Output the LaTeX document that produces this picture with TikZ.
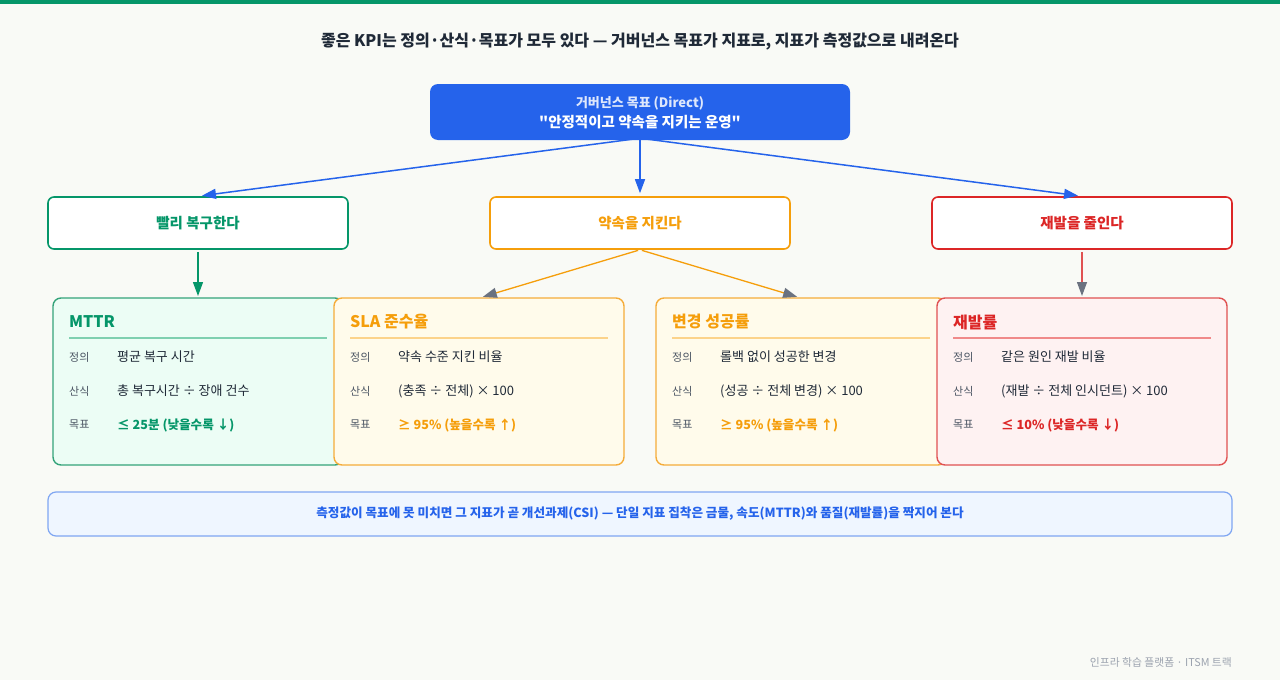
\documentclass[tikz,border=0pt]{standalone}
\usepackage{fontspec}
\setmainfont{Noto Sans CJK KR}
\usetikzlibrary{arrows.meta}
\newcommand{\sq}{\XeTeXglyph\XeTeXcharglyph"22\relax}
\definecolor{bgc}{HTML}{F9FAF6}
\definecolor{topbar}{HTML}{059669}
\definecolor{titc}{HTML}{1F2937}
\definecolor{blu}{HTML}{2563EB}
\definecolor{grn}{HTML}{059669}
\definecolor{org}{HTML}{F59E0B}
\definecolor{red1}{HTML}{DC2626}
\definecolor{grayhead}{HTML}{6B7280}
\definecolor{lblc}{HTML}{4B5563}
\definecolor{valc}{HTML}{1F2937}
\definecolor{gfill}{HTML}{ECFDF5}
\definecolor{gbord}{HTML}{34A37A}
\definecolor{gline}{HTML}{7FD0B0}
\definecolor{ofill}{HTML}{FFFBEB}
\definecolor{obord}{HTML}{F5AC3A}
\definecolor{oline}{HTML}{FCD38A}
\definecolor{rfill}{HTML}{FEF2F2}
\definecolor{rbord}{HTML}{E05252}
\definecolor{rline}{HTML}{F08A8A}
\definecolor{bfill}{HTML}{EFF6FF}
\definecolor{bbord}{HTML}{7FA6F2}
\definecolor{footc}{HTML}{9CA3AF}
\tikzset{
  midbox/.style={draw=#1, fill=white, line width=1.6pt, rounded corners=6pt, minimum width=300pt, minimum height=52pt, inner sep=0pt, text=#1, font=\fontsize{14.5}{16}\selectfont\bfseries},
  kcard/.style n args={2}{draw=#1, fill=#2, line width=1.4pt, rounded corners=8pt, minimum width=290pt, minimum height=167pt, inner sep=0pt, outer sep=0pt, anchor=north west},
  ktitle/.style={anchor=west, inner sep=0pt, font=\fontsize{16}{18}\selectfont\bfseries, text=#1},
  klbl/.style={anchor=west, inner sep=0pt, font=\fontsize{11}{12}\selectfont, text=lblc},
  kval/.style={anchor=west, inner sep=0pt, font=\fontsize{13}{14}\selectfont, text=valc},
  ktgt/.style={anchor=west, inner sep=0pt, font=\fontsize{12.6}{14}\selectfont\bfseries, text=#1},
  arr/.style n args={2}{draw=#1, line width=1.5pt, -{Triangle[length=14pt,width=10pt,color=#2]}},
}
\begin{document}
\begin{tikzpicture}[x=1pt,y=-1pt]
\useasboundingbox (0,0) rectangle (1280,680);
\fill[bgc] (0,0) rectangle (1280,680);
\fill[topbar] (0,0) rectangle (1280,4);
\node[font=\fontsize{16}{19}\selectfont\bfseries, text=titc, inner sep=0pt] (title) at (640,42) {좋은 KPI는 정의·산식·목표가 모두 있다 — 거버넌스 목표가 지표로, 지표가 측정값으로 내려온다};

% top box
\node[fill=blu, rounded corners=8pt, minimum width=420pt, minimum height=56pt, inner sep=0pt] (top) at (640,112) {};
\node[inner sep=0pt, text=white, opacity=0.85, font=\fontsize{13}{14}\selectfont\bfseries] (topl1) at (640,103) {거버넌스 목표 (Direct)};
\node[inner sep=0pt, text=white, font=\fontsize{14.5}{16}\selectfont\bfseries] (topl2) at (640,122) {\sq 안정적이고 약속을 지키는 운영\sq};

% mid boxes
\node[midbox=grn] (m1) at (198,223) {빨리 복구한다};
\node[midbox=org] (m2) at (640,223) {약속을 지킨다};
\node[midbox=red1] (m3) at (1082,223) {재발을 줄인다};

% cards
\node[kcard={gbord}{gfill}] (c1) at (53,298) {};
\node[kcard={obord}{ofill}] (c2) at (334,298) {};
\node[kcard={obord}{ofill}] (c3) at (656,298) {};
\node[kcard={rbord}{rfill}] (c4) at (937,298) {};

% card 1
\node[ktitle=grn] (c1t) at (69,322) {MTTR};
\draw[gline, line width=1.6pt] (69,338) -- (327,338);
\node[klbl] (c1l1) at (69,357) {정의};
\node[kval] (c1v1) at (117,357) {평균 복구 시간};
\node[klbl] (c1l2) at (69,391) {산식};
\node[kval] (c1v2) at (117,391) {총 복구시간 ÷ 장애 건수};
\node[klbl] (c1l3) at (69,425) {목표};
\node[ktgt=grn] (c1v3) at (117,425) {≤ 25분 (낮을수록 ↓)};

% card 2
\node[ktitle=org] (c2t) at (350,322) {SLA 준수율};
\draw[oline, line width=1.6pt] (350,338) -- (608,338);
\node[klbl] (c2l1) at (350,357) {정의};
\node[kval] (c2v1) at (398,357) {약속 수준 지킨 비율};
\node[klbl] (c2l2) at (350,391) {산식};
\node[kval] (c2v2) at (398,391) {(충족 ÷ 전체) × 100};
\node[klbl] (c2l3) at (350,425) {목표};
\node[ktgt=org] (c2v3) at (398,425) {≥ 95\% (높을수록 ↑)};

% card 3
\node[ktitle=org] (c3t) at (672,322) {변경 성공률};
\draw[oline, line width=1.6pt] (672,338) -- (930,338);
\node[klbl] (c3l1) at (672,357) {정의};
\node[kval] (c3v1) at (720,357) {롤백 없이 성공한 변경};
\node[klbl] (c3l2) at (672,391) {산식};
\node[kval] (c3v2) at (720,391) {(성공 ÷ 전체 변경) × 100};
\node[klbl] (c3l3) at (672,425) {목표};
\node[ktgt=org] (c3v3) at (720,425) {≥ 95\% (높을수록 ↑)};

% card 4
\node[ktitle=red1] (c4t) at (953,322) {재발률};
\draw[rline, line width=1.6pt] (953,338) -- (1211,338);
\node[klbl] (c4l1) at (953,357) {정의};
\node[kval] (c4v1) at (1001,357) {같은 원인 재발 비율};
\node[klbl] (c4l2) at (953,391) {산식};
\node[kval] (c4v2) at (1001,391) {(재발 ÷ 전체 인시던트) × 100};
\node[klbl] (c4l3) at (953,425) {목표};
\node[ktgt=red1] (c4v3) at (1001,425) {≤ 10\% (낮을수록 ↓)};

% arrows
\coordinate (topb) at ([yshift=2pt]top.south);
\draw[arr={blu}{blu}, shorten >=4pt] (topb) -- (m1.north);
\draw[arr={blu}{blu}, shorten >=3pt] (topb) -- (m2.north);
\draw[arr={blu}{blu}, shorten >=4pt] (topb) -- (m3.north);
\draw[arr={grn}{grn}, line width=1.3pt, shorten <=2pt, shorten >=2pt] (m1.south) -- (m1.south |- c1.north);
\draw[arr={org}{grayhead}, line width=1.3pt, shorten <=2pt, shorten >=4pt] (m2.south) -- (c2.north);
\draw[arr={org}{grayhead}, line width=1.3pt, shorten <=2pt, shorten >=4pt] (m2.south) -- (c3.north);
\draw[arr={rbord}{grayhead}, line width=1.3pt, shorten <=2pt, shorten >=2pt] (m3.south) -- (m3.south |- c4.north);

% bottom banner
\node[draw=bbord, fill=bfill, line width=1.2pt, rounded corners=8pt, minimum width=1184pt, minimum height=44pt, inner sep=0pt, text=blu, font=\fontsize{12.6}{14}\selectfont\bfseries] (banner) at (640,514) {측정값이 목표에 못 미치면 그 지표가 곧 개선과제(CSI) — 단일 지표 집착은 금물, 속도(MTTR)와 품질(재발률)을 짝지어 본다};

\node[anchor=east, inner sep=0pt, text=footc, font=\fontsize{10.8}{12}\selectfont] (foot) at (1232,662) {인프라 학습 플랫폼 · ITSM 트랙};
\end{tikzpicture}
\end{document}
